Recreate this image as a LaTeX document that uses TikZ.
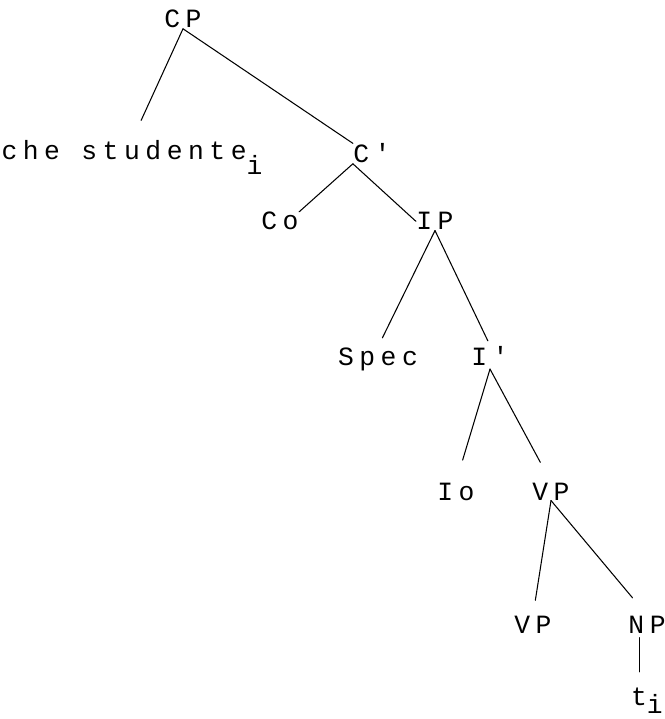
\documentclass[tikz,border=0pt]{standalone}
\usepackage{fontspec}
\setmonofont[LetterSpace=21]{Liberation Mono}
\begin{document}
\begin{tikzpicture}[x=0.02cm, y=-0.02cm, font=\ttfamily\fontsize{15}{17}\selectfont, line join=round, line cap=round, line width=0.6pt,
		lab/.style={inner sep=0pt, anchor=base}]
		\useasboundingbox (0,0) rectangle (664,719);
		\node[lab] (cp) at (183,28) {CP};
		\node[lab, anchor=base west] (che) at (1,160) {che studente\raisebox{-8pt}{i}};
		\node[lab] (cq) at (372,163) {C'};
		\node[lab] (co) at (280,230) {Co};
		\node[lab] (ip) at (435,230) {IP};
		\node[lab] (spec) at (378,365) {Spec};
		\node[lab] (ib) at (490,365) {I'};
		\node[lab] (io) at (456,500) {Io};
		\node[lab] (vp) at (551,500) {VP};
		\node[lab] (vpb) at (533,633) {VP};
		\node[lab] (np) at (647,633) {NP};
		\node[lab] (tr) at (639,705) {t\rlap{\raisebox{-5pt}{i}}};
		\draw[shorten >=0.44cm] (cp.south) -- (che.north);
		\draw (cp.south) -- (cq.north west);
		\draw (cq.south west) -- (co.north east);
		\draw (cq.south west) -- (ip.west);
		\draw[shorten >=0.2cm] (ip.south) -- (spec.north);
		\draw[shorten >=0.1cm] (ip.south) -- (ib.north);
		\draw[shorten >=0.46cm] ([yshift=-2pt]ib.south) -- (io.north);
		\draw[shorten >=0.45cm] ([yshift=-2pt]ib.south) -- (vp.north);
		\draw[shorten >=0.3cm] (vp.south) -- (vpb.north);
		\draw[shorten >=0.45cm] (vp.south) -- (np.north);
		\draw[line width=0.4pt, shorten <=0.08cm, shorten >=0.3cm] (np.south -| tr.north) -- (tr.north);
\end{tikzpicture}
\end{document}
